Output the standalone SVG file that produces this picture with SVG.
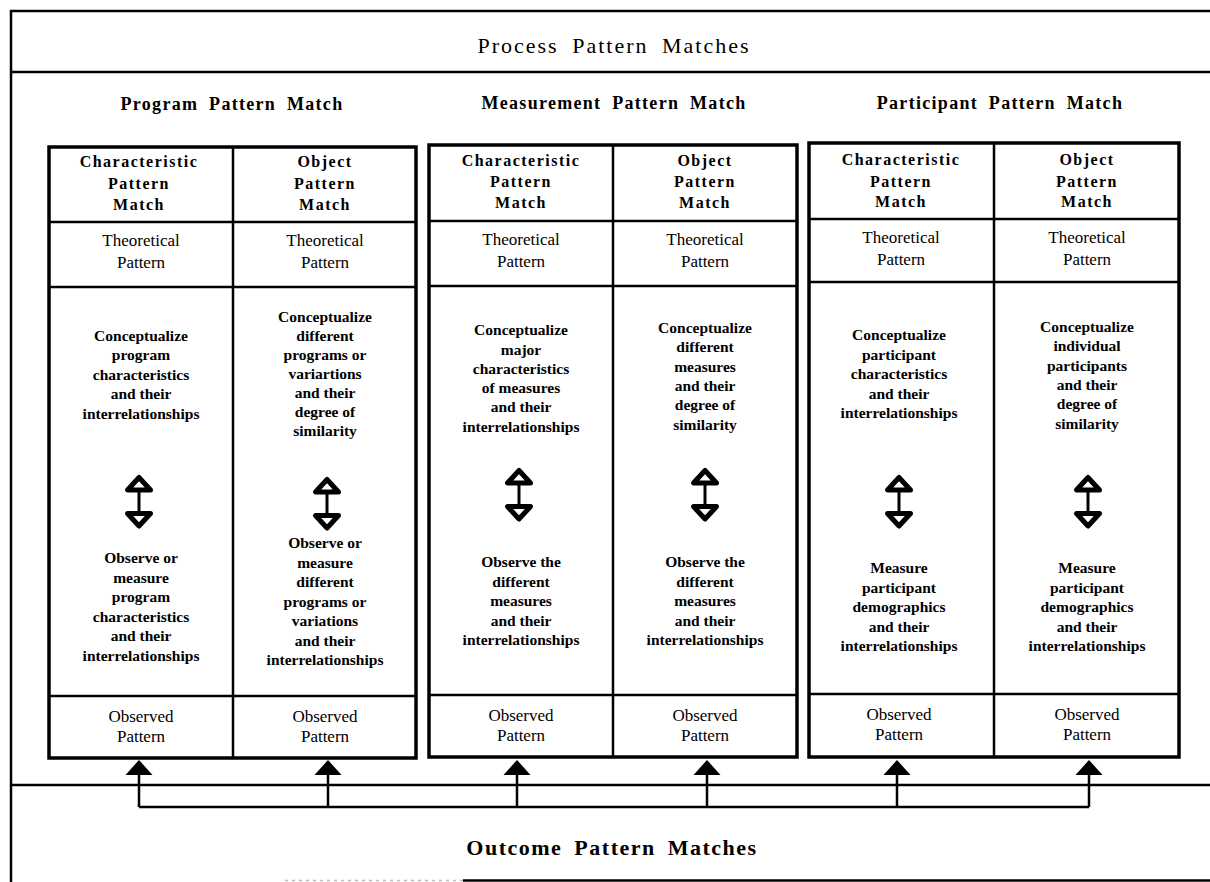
<svg xmlns="http://www.w3.org/2000/svg" width="1210" height="882" viewBox="0 0 1210 882">
  <style>
    .frame { fill: none; stroke: #000; stroke-width: 2.5; }
    .panel { fill: #fff; stroke: #000; stroke-width: 3.5; }
    .rule { stroke: #000; stroke-width: 2.5; fill: none; }
    .t { font-family: "Liberation Serif", "Times New Roman", serif; fill: #000; text-anchor: middle; }
    .title { font-size: 22px; letter-spacing: 2px; word-spacing: 6px; }
    .sub { font-size: 18px; font-weight: bold; letter-spacing: 1.3px; word-spacing: 5px; }
    .hdr { font-size: 16px; font-weight: bold; letter-spacing: 1.5px; }
    .row { font-size: 17px; }
    .body { font-size: 15.5px; font-weight: bold; }
    .outcome { font-size: 22px; font-weight: bold; letter-spacing: 1.5px; word-spacing: 5px; }
    .head { fill: #fff; stroke: #000; stroke-width: 5; stroke-linejoin: round; }
    .stem { stroke: #000; stroke-width: 3; }
    .link { fill: none; stroke: #000; stroke-width: 2.5; }
    .tip { fill: #000; }
  </style>
  <defs>
    <!-- two-way hollow arrow, origin at the upper tip -->
    <g id="dbl">
      <path class="head" d="M0,2.5 L-11.5,15 L11.5,15 Z"/>
      <line class="stem" x1="0" y1="17" x2="0" y2="37"/>
      <path class="head" d="M-11.5,38.5 L11.5,38.5 L0,51 Z"/>
    </g>
  </defs>

  <rect width="1210" height="882" fill="#fff"/>

  <!-- outer frame -->
  <g id="frame">
    <path class="frame" d="M1210,11 L11,11 L11,882"/>
    <line class="rule" x1="11" y1="72" x2="1210" y2="72"/>
    <line class="rule" x1="11" y1="785" x2="1210" y2="785"/>
    <line class="rule" x1="463" y1="880.5" x2="1210" y2="880.5"/>
    <line x1="285" y1="880.5" x2="463" y2="880.5" stroke="#bbb" stroke-width="1.5" stroke-dasharray="3 4"/>
    <text class="t title" x="614" y="53">Process Pattern Matches</text>
    <text class="t outcome" x="612" y="855">Outcome Pattern Matches</text>
  </g>

  <!-- Program pattern match -->
  <g id="program">
    <text class="t sub" x="232" y="110">Program Pattern Match</text>
    <rect class="panel" x="49" y="147" width="367" height="611"/>
    <line class="rule" x1="233" y1="147" x2="233" y2="758"/>
    <line class="rule" x1="49" y1="222" x2="416" y2="222"/>
    <line class="rule" x1="49" y1="287" x2="416" y2="287"/>
    <line class="rule" x1="49" y1="696" x2="416" y2="696"/>
    <g id="program-characteristic">
      <text class="t hdr" x="139"><tspan x="139" y="167">Characteristic</tspan><tspan x="139" y="189">Pattern</tspan><tspan x="139" y="210">Match</tspan></text>
      <text class="t row" x="141"><tspan x="141" y="246">Theoretical</tspan><tspan x="141" y="268">Pattern</tspan></text>
      <text class="t body" x="141"><tspan x="141" y="341">Conceptualize</tspan><tspan x="141" y="360">program</tspan><tspan x="141" y="379.5">characteristics</tspan><tspan x="141" y="399">and their</tspan><tspan x="141" y="418.5">interrelationships</tspan></text>
      <use href="#dbl" x="139" y="475"/>
      <text class="t body" x="141"><tspan x="141" y="563">Observe or</tspan><tspan x="141" y="582.5">measure</tspan><tspan x="141" y="602">program</tspan><tspan x="141" y="621.5">characteristics</tspan><tspan x="141" y="641">and their</tspan><tspan x="141" y="660.5">interrelationships</tspan></text>
      <text class="t row" x="141"><tspan x="141" y="722">Observed</tspan><tspan x="141" y="742">Pattern</tspan></text>
    </g>
    <g id="program-object">
      <text class="t hdr" x="325"><tspan x="325" y="167">Object</tspan><tspan x="325" y="189">Pattern</tspan><tspan x="325" y="210">Match</tspan></text>
      <text class="t row" x="325"><tspan x="325" y="246">Theoretical</tspan><tspan x="325" y="268">Pattern</tspan></text>
      <text class="t body" x="325"><tspan x="325" y="321.5">Conceptualize</tspan><tspan x="325" y="340.5">different</tspan><tspan x="325" y="359.5">programs or</tspan><tspan x="325" y="378.5">variartions</tspan><tspan x="325" y="397.5">and their</tspan><tspan x="325" y="416.5">degree of</tspan><tspan x="325" y="435.5">similarity</tspan></text>
      <use href="#dbl" x="327" y="477"/>
      <text class="t body" x="325"><tspan x="325" y="548">Observe or</tspan><tspan x="325" y="567.5">measure</tspan><tspan x="325" y="587">different</tspan><tspan x="325" y="606.5">programs or</tspan><tspan x="325" y="626">variations</tspan><tspan x="325" y="645.5">and their</tspan><tspan x="325" y="665">interrelationships</tspan></text>
      <text class="t row" x="325"><tspan x="325" y="722">Observed</tspan><tspan x="325" y="742">Pattern</tspan></text>
    </g>
  </g>

  <!-- Measurement pattern match -->
  <g id="measurement">
    <text class="t sub" x="614" y="109">Measurement Pattern Match</text>
    <rect class="panel" x="429" y="145" width="368" height="612"/>
    <line class="rule" x1="613" y1="145" x2="613" y2="757"/>
    <line class="rule" x1="429" y1="221" x2="797" y2="221"/>
    <line class="rule" x1="429" y1="286" x2="797" y2="286"/>
    <line class="rule" x1="429" y1="695" x2="797" y2="695"/>
    <g id="measurement-characteristic">
      <text class="t hdr" x="521"><tspan x="521" y="166">Characteristic</tspan><tspan x="521" y="187">Pattern</tspan><tspan x="521" y="208">Match</tspan></text>
      <text class="t row" x="521"><tspan x="521" y="245">Theoretical</tspan><tspan x="521" y="267">Pattern</tspan></text>
      <text class="t body" x="521"><tspan x="521" y="335">Conceptualize</tspan><tspan x="521" y="354.5">major</tspan><tspan x="521" y="374">characteristics</tspan><tspan x="521" y="393">of measures</tspan><tspan x="521" y="412">and their</tspan><tspan x="521" y="431.5">interrelationships</tspan></text>
      <use href="#dbl" x="519" y="468"/>
      <text class="t body" x="521"><tspan x="521" y="567">Observe the</tspan><tspan x="521" y="586.5">different</tspan><tspan x="521" y="606">measures</tspan><tspan x="521" y="625.5">and their</tspan><tspan x="521" y="645">interrelationships</tspan></text>
      <text class="t row" x="521"><tspan x="521" y="721">Observed</tspan><tspan x="521" y="741">Pattern</tspan></text>
    </g>
    <g id="measurement-object">
      <text class="t hdr" x="705"><tspan x="705" y="166">Object</tspan><tspan x="705" y="187">Pattern</tspan><tspan x="705" y="208">Match</tspan></text>
      <text class="t row" x="705"><tspan x="705" y="245">Theoretical</tspan><tspan x="705" y="267">Pattern</tspan></text>
      <text class="t body" x="705"><tspan x="705" y="333">Conceptualize</tspan><tspan x="705" y="352">different</tspan><tspan x="705" y="371.5">measures</tspan><tspan x="705" y="391">and their</tspan><tspan x="705" y="410">degree of</tspan><tspan x="705" y="429.5">similarity</tspan></text>
      <use href="#dbl" x="705" y="468"/>
      <text class="t body" x="705"><tspan x="705" y="567">Observe the</tspan><tspan x="705" y="586.5">different</tspan><tspan x="705" y="606">measures</tspan><tspan x="705" y="625.5">and their</tspan><tspan x="705" y="645">interrelationships</tspan></text>
      <text class="t row" x="705"><tspan x="705" y="721">Observed</tspan><tspan x="705" y="741">Pattern</tspan></text>
    </g>
  </g>

  <!-- Participant pattern match -->
  <g id="participant">
    <text class="t sub" x="1000" y="109">Participant Pattern Match</text>
    <rect class="panel" x="809" y="143" width="370" height="614"/>
    <line class="rule" x1="994" y1="143" x2="994" y2="757"/>
    <line class="rule" x1="809" y1="219" x2="1179" y2="219"/>
    <line class="rule" x1="809" y1="282" x2="1179" y2="282"/>
    <line class="rule" x1="809" y1="694" x2="1179" y2="694"/>
    <g id="participant-characteristic">
      <text class="t hdr" x="901"><tspan x="901" y="165">Characteristic</tspan><tspan x="901" y="187">Pattern</tspan><tspan x="901" y="207">Match</tspan></text>
      <text class="t row" x="901"><tspan x="901" y="243">Theoretical</tspan><tspan x="901" y="265">Pattern</tspan></text>
      <text class="t body" x="899"><tspan x="899" y="340">Conceptualize</tspan><tspan x="899" y="359.5">participant</tspan><tspan x="899" y="379">characteristics</tspan><tspan x="899" y="398.5">and their</tspan><tspan x="899" y="418">interrelationships</tspan></text>
      <use href="#dbl" x="899" y="475"/>
      <text class="t body" x="899"><tspan x="899" y="573">Measure</tspan><tspan x="899" y="592.5">participant</tspan><tspan x="899" y="612">demographics</tspan><tspan x="899" y="631.5">and their</tspan><tspan x="899" y="651">interrelationships</tspan></text>
      <text class="t row" x="899"><tspan x="899" y="720">Observed</tspan><tspan x="899" y="740">Pattern</tspan></text>
    </g>
    <g id="participant-object">
      <text class="t hdr" x="1087"><tspan x="1087" y="165">Object</tspan><tspan x="1087" y="187">Pattern</tspan><tspan x="1087" y="207">Match</tspan></text>
      <text class="t row" x="1087"><tspan x="1087" y="243">Theoretical</tspan><tspan x="1087" y="265">Pattern</tspan></text>
      <text class="t body" x="1087"><tspan x="1087" y="332">Conceptualize</tspan><tspan x="1087" y="351">individual</tspan><tspan x="1087" y="370.5">participants</tspan><tspan x="1087" y="390">and their</tspan><tspan x="1087" y="409">degree of</tspan><tspan x="1087" y="428.5">similarity</tspan></text>
      <use href="#dbl" x="1088" y="475"/>
      <text class="t body" x="1087"><tspan x="1087" y="573">Measure</tspan><tspan x="1087" y="592.5">participant</tspan><tspan x="1087" y="612">demographics</tspan><tspan x="1087" y="631.5">and their</tspan><tspan x="1087" y="651">interrelationships</tspan></text>
      <text class="t row" x="1087"><tspan x="1087" y="720">Observed</tspan><tspan x="1087" y="740">Pattern</tspan></text>
    </g>
  </g>

  <!-- outcome links feeding every observed pattern -->
  <g id="connectors">
    <path class="link" d="M139,807 L1089,807 M139,807 L139,774 M328,807 L328,774 M517,807 L517,774 M707,807 L707,774 M897,807 L897,774 M1089,807 L1089,774"/>
    <path class="tip" d="M139,760 L125.5,775 L152.5,775 Z"/>
    <path class="tip" d="M328,760 L314.5,775 L341.5,775 Z"/>
    <path class="tip" d="M517,760 L503.5,775 L530.5,775 Z"/>
    <path class="tip" d="M707,760 L693.5,775 L720.5,775 Z"/>
    <path class="tip" d="M897,760 L883.5,775 L910.5,775 Z"/>
    <path class="tip" d="M1089,760 L1075.5,775 L1102.5,775 Z"/>
  </g>
</svg>
